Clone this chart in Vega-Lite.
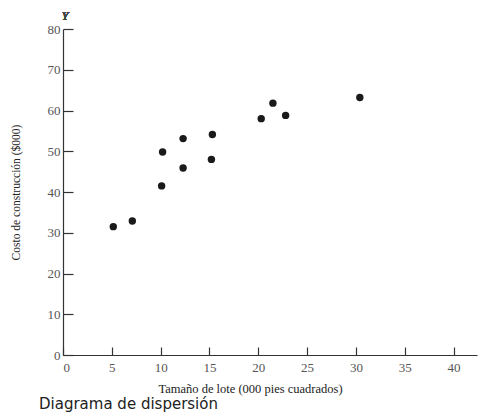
{
  "$schema": "https://vega.github.io/schema/vega-lite/v6.json",
  "width": 414,
  "height": 326,
  "autosize": {"type": "none"},
  "padding": {"left": 63, "top": 29, "right": 7, "bottom": 61},
  "background": "white",
  "config": {
    "view": {"stroke": null},
    "axis": {
      "grid": false,
      "domainColor": "#333333",
      "domainWidth": 1.2,
      "tickColor": "#333333",
      "tickWidth": 1.2,
      "labelFont": "Liberation Serif",
      "labelFontSize": 13,
      "labelColor": "#555555",
      "titleFont": "Liberation Serif",
      "titleFontSize": 11.5,
      "titleFontWeight": "normal",
      "titleColor": "#222222"
    }
  },
  "title": {
    "text": "Diagrama de dispersión",
    "orient": "bottom",
    "anchor": "start",
    "frame": "group",
    "dx": -24,
    "offset": 2,
    "font": "DejaVu Sans",
    "fontSize": 15,
    "fontWeight": "normal",
    "color": "#222222"
  },
  "data": {
    "values": [
      {"lote": 5.15, "costo": 31.5},
      {"lote": 7.1, "costo": 32.9},
      {"lote": 10.1, "costo": 41.5},
      {"lote": 10.2, "costo": 49.8},
      {"lote": 12.3, "costo": 45.9},
      {"lote": 12.3, "costo": 53.1},
      {"lote": 15.2, "costo": 48.0},
      {"lote": 15.3, "costo": 54.1},
      {"lote": 20.3, "costo": 58.0},
      {"lote": 21.5, "costo": 61.8},
      {"lote": 22.8, "costo": 58.8},
      {"lote": 30.4, "costo": 63.2}
    ]
  },
  "layer": [
    {
      "mark": {"type": "point", "filled": true, "size": 55, "color": "#1a1a1a", "opacity": 1},
      "encoding": {
        "x": {
          "field": "lote",
          "type": "quantitative",
          "scale": {"domain": [0, 42.4], "nice": false},
          "axis": {
            "title": "Tamaño de lote (000  pies cuadrados)",
            "values": [0, 5, 10, 15, 20, 25, 30, 35, 40],
            "tickSize": -8,
            "labelPadding": 14,
            "titleX": 187,
            "titlePadding": 8,
            "titleFontSize": 12.5
          }
        },
        "y": {
          "field": "costo",
          "type": "quantitative",
          "scale": {"domain": [0, 80], "nice": false},
          "axis": {
            "title": "Costo de construcción ($000)",
            "values": [0, 10, 20, 30, 40, 50, 60, 70, 80],
            "tickSize": -10,
            "labelPadding": 13,
            "titlePadding": 26
          }
        }
      }
    },
    {
      "mark": {"type": "text", "text": "Y", "fontStyle": "italic", "font": "Liberation Serif", "fontSize": 12, "color": "#444444", "dy": -13, "dx": 2},
      "encoding": {
        "x": {"datum": 0, "type": "quantitative"},
        "y": {"datum": 80, "type": "quantitative"}
      }
    }
  ]
}
